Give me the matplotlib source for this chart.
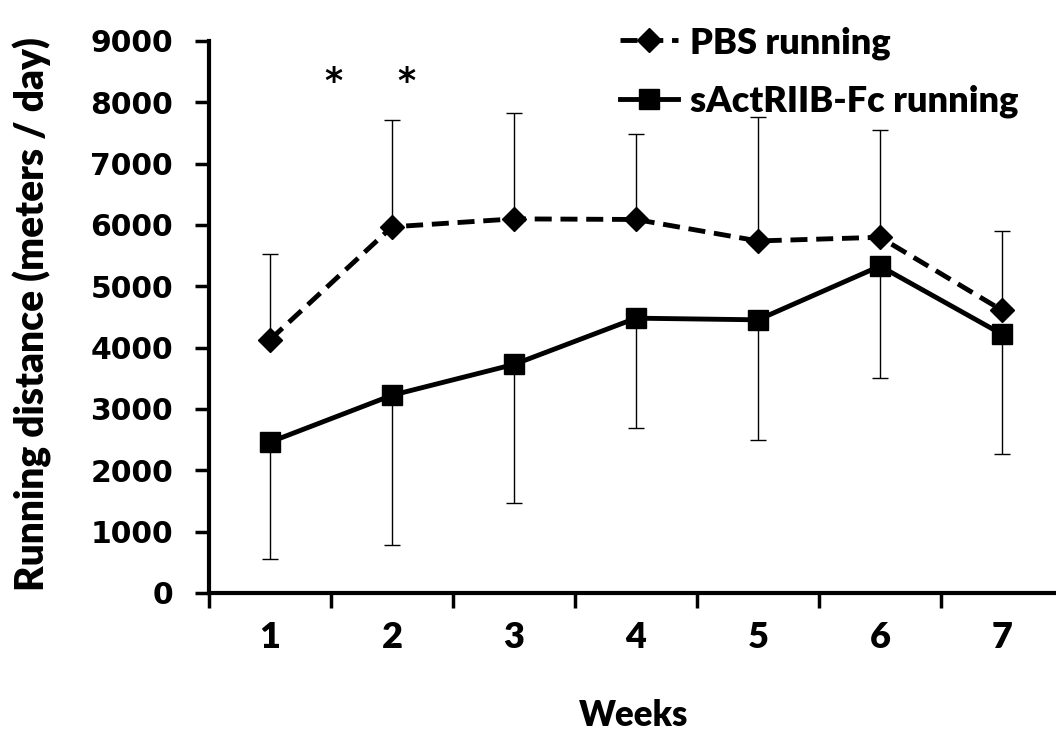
import matplotlib
matplotlib.use("Agg")
import matplotlib.pyplot as plt
import numpy as np

weeks = [1, 2, 3, 4, 5, 6, 7]
pbs_mean = [4130, 5970, 6100, 6090, 5740, 5800, 4610]
pbs_upper = [5527, 7712, 7827, 7484, 7760, 7550, 5903]
sact_mean = [2460, 3224, 3727, 4481, 4454, 5330, 4219]
sact_lower = [552, 781, 1475, 2683, 2497, 3508, 2268]
star_weeks = [1.52, 2.12]
star_y = 8330

pbs_err = np.array(pbs_upper) - np.array(pbs_mean)
sact_err = np.array(sact_mean) - np.array(sact_lower)

label_font = ["Lato", "DejaVu Sans"]

fig = plt.figure(figsize=(10.56, 7.33), dpi=100)
ax = fig.add_axes([209 / 1056, 140 / 733, 854 / 1056, 552 / 733])

ax.errorbar(weeks, pbs_mean, yerr=[np.zeros(7), pbs_err], fmt="none",
            ecolor="black", elinewidth=1, capsize=6, capthick=1, zorder=2)
ax.errorbar(weeks, sact_mean, yerr=[sact_err, np.zeros(7)], fmt="none",
            ecolor="black", elinewidth=1, capsize=6, capthick=1, zorder=2)

ax.plot(weeks, pbs_mean, color="black", lw=3.5, ls=(0, (3.5, 1.8)),
        marker="D", ms=12.5, label="PBS running", zorder=3)
ax.plot(weeks, sact_mean, color="black", lw=3.5, ls="-",
        marker="s", ms=14, label="sActRIIB-Fc running", zorder=3)

for sx in star_weeks:
    ax.text(sx, star_y, "*", ha="center", va="center", fontsize=25,
            fontweight="bold", family="DejaVu Sans")

ax.set_xlim(0.5, 7.5)
ax.set_ylim(0, 9000)
ax.set_yticks(np.arange(0, 9001, 1000))
ax.set_xticks(weeks)
ax.set_xticks(np.arange(0.5, 7.6, 1), minor=True)
ax.tick_params(axis="x", which="major", length=0, pad=20, labelsize=26)
ax.tick_params(axis="x", which="minor", length=11, width=2.5, direction="out")
ax.tick_params(axis="y", length=10, width=2.5, direction="out", labelsize=21.5, pad=16)
for lab in ax.get_xticklabels():
    lab.set_fontweight("heavy")
    lab.set_family(label_font)
for lab in ax.get_yticklabels():
    lab.set_fontweight("bold")
    lab.set_family("DejaVu Sans")

for s in ["top", "right"]:
    ax.spines[s].set_visible(False)
for s in ["left", "bottom"]:
    ax.spines[s].set_linewidth(3)

fig.text(32 / 1056, 1 - 314 / 733, "Running distance (meters / day)", rotation=90,
         ha="center", va="center", fontsize=28, fontweight="heavy", family=label_font)
fig.text(634 / 1056, 1 - 715 / 733, "Weeks", ha="center", va="center",
         fontsize=25, fontweight="heavy", family=label_font)

leg = ax.legend(loc="upper left", bbox_to_anchor=(0.481, 1.027), frameon=False,
                prop={"family": label_font, "weight": "heavy", "size": 26},
                handlelength=1.6, labelspacing=0.7, handletextpad=0.35,
                borderpad=0, borderaxespad=0)

fig.savefig("out.png", dpi=100)
